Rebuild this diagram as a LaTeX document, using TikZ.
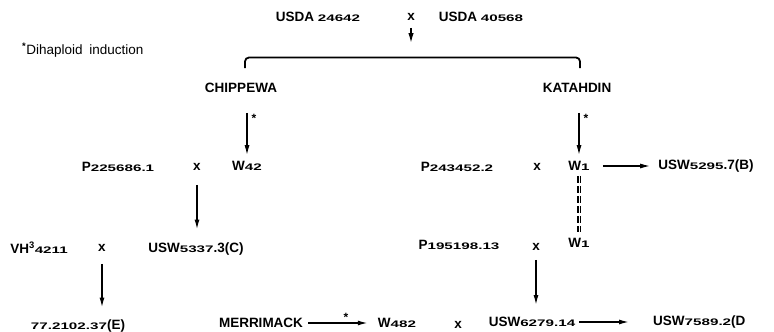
\documentclass[tikz,border=0pt]{standalone}
\usepackage{fontspec}
\usepackage{graphicx}
\setmainfont{Liberation Sans}
\usetikzlibrary{arrows.meta}
\newcommand\dg[1]{\scalebox{1.6}[1]{\bfseries\fontsize{9.5}{10}\selectfont #1}}
\begin{document}
\begin{tikzpicture}[x=1pt,y=-1pt,
  lbl/.style={inner sep=0pt, font=\bfseries\fontsize{13.5}{15}\selectfont},
  arr/.style={line width=1.4pt, -{Latex[length=10pt,width=5pt]}},
  brk/.style={line width=1.8pt, rounded corners=4pt},
  dbl/.style={line width=1.1pt, double distance=1pt, dash pattern=on 7pt off 3pt},
  star/.style={inner sep=0pt, font=\bfseries\fontsize{12}{12}\selectfont}]
\useasboundingbox (0,0) rectangle (774,332);

% top row
\node[lbl] (usda1) at (318,17) {USDA \dg{24642}};
\node[lbl] (cross1) at (411,17) {x};
\node[lbl] (usda2) at (481,17) {USDA \dg{40568}};
\coordinate (xa) at (411,43);
\draw[arr, -{Latex[length=10pt,width=5.5pt]}, shorten <=7pt] (cross1) -- (xa);

\node[lbl, anchor=west, font=\fontsize{13.5}{15}\selectfont] (note) at (22,50) {\textsuperscript{\bfseries *}Dihaploid\enspace induction};

% bracket
\coordinate (bl) at (245,68);
\coordinate (br) at (580,68);
\draw[brk] (bl) -- (245,57.5) -- (580,57.5) -- (br);

\node[lbl] (chip) at (241,88) {CHIPPEWA};
\node[lbl] (kat) at (577,88) {KATAHDIN};

% second row
\node[lbl] (p225) at (118,167) {P\dg{225686.1}};
\node[lbl] (cross2) at (197,167) {x};
\node[lbl] (w42) at (247,166) {W\dg{42}};

\node[lbl] (p243) at (457,167) {P\dg{243452.2}};
\node[lbl] (cross3) at (537,167) {x};
\node[lbl] (w1a) at (579,166) {W\dg{1}};
\node[lbl] (uswb) at (706,166) {USW\dg{5295}.7(B)};

\draw[arr, shorten <=20pt, shorten >=6pt] (chip.south -| w42) -- (w42.north);
\node[star] (s1) at (254,118) {*};
\draw[arr, shorten <=20pt, shorten >=6pt] (kat.south -| w1a) -- (w1a.north);
\node[star] (s2) at (586,118) {*};
\draw[arr, shorten <=13pt, shorten >=8pt] (w1a.east) -- (uswb.west);

% third row
\node[lbl] (vh) at (39,248) {VH\textsuperscript{3}\dg{4211}};
\node[lbl] (cross5) at (102,248) {x};
\node[lbl] (uswc) at (196,249) {USW\dg{5337}.3(C)};

\node[lbl] (p195) at (459,245) {P\dg{195198.13}};
\node[lbl] (cross4) at (536,247) {x};
\node[lbl] (w1b) at (579,243) {W\dg{1}};

\draw[dbl, shorten <=5pt, shorten >=6pt] (w1a.south) -- (w1b.north);
\draw[arr, shorten <=14pt, shorten >=13pt] (cross2.south) -- (cross2.south |- uswc.north);

% bottom row
\node[lbl] (e) at (78,326) {\dg{77.2102.37}(E)};
\node[lbl] (merr) at (261,323) {MERRIMACK};
\node[lbl] (w482) at (397,323) {W\dg{482}};
\node[lbl] (cross6) at (458,325) {x};
\node[lbl] (uswf) at (532,322) {USW\dg{6279.14}};
\node[lbl, anchor=west] (uswd) at (653,322) {USW\dg{7589.2}(D};

\draw[arr, shorten <=12pt, shorten >=12pt] (cross5.south) -- (cross5.south |- e.north);
\draw[arr, shorten <=9pt, shorten >=12pt] (cross4.south) -- (cross4.south |- uswf.north);
\draw[arr, shorten <=5pt, shorten >=10pt] (merr.east) -- (w482.west);
\node[star] (s3) at (346,317) {*};
\draw[arr, shorten <=4pt, shorten >=24pt] (uswf.east) -- (uswd.west);
\end{tikzpicture}
\end{document}
